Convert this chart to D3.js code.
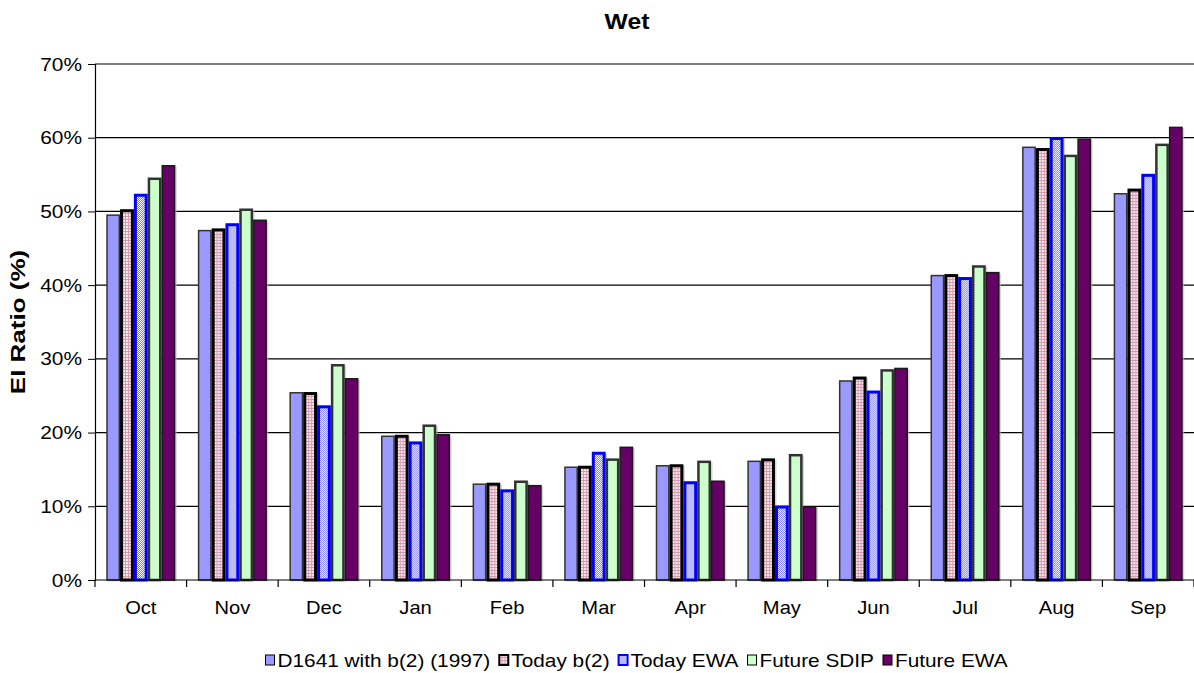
<!DOCTYPE html>
<html>
<head>
<meta charset="utf-8">
<script src="https://cdn.jsdelivr.net/npm/d3@7"></script>
<style>
  html, body { margin: 0; padding: 0; background: #fff; }
  svg { display: block; font-family: "Liberation Sans", Arial, sans-serif; }
</style>
</head>
<body>
<svg id="chart" width="1194" height="673"></svg>
<script>
// ---- data ----
const months = ["Oct","Nov","Dec","Jan","Feb","Mar","Apr","May","Jun","Jul","Aug","Sep"];
const seriesNames = ["D1641 with b(2) (1997)","Today b(2)","Today EWA","Future SDIP","Future EWA"];
const d1641      = [49.6, 47.5, 25.5, 19.6, 13.1, 15.4, 15.6, 16.2, 27.1, 41.4, 58.8, 52.5];
const todayB2    = [50.3, 47.7, 25.5, 19.7, 13.2, 15.5, 15.7, 16.5, 27.6, 41.5, 58.6, 53.1];
const todayEWA   = [52.4, 48.4, 23.7, 18.8, 12.3, 17.4, 13.4, 10.1, 25.7, 41.1, 60.1, 55.1];
const futureSDIP = [54.6, 50.4, 29.3, 21.1, 13.5, 16.5, 16.2, 17.1, 28.6, 42.7, 57.7, 59.2];
const futureEWA  = [56.3, 48.9, 27.4, 19.8, 12.9, 18.1, 13.5, 10.0, 28.8, 41.8, 59.9, 61.5];
const yTicks = [0, 0.1, 0.2, 0.3, 0.4, 0.5, 0.6, 0.7];
const seriesValues = [d1641, todayB2, todayEWA, futureSDIP, futureEWA];

(function () {
const styles = [
  {fill: "#9999ff", stroke: "#333333", sw: 1.5},
  {fill: "url(#patB2)", stroke: "#000000", sw: 3},
  {fill: "url(#patEWA)", stroke: "#0000ff", sw: 3},
  {fill: "#ccffcc", stroke: "#333333", sw: 2.5},
  {fill: "#660066", stroke: "#1a1a1a", sw: 1.5}
];

const svg = d3.select("#chart");
const defs = svg.append("defs");
const p1 = defs.append("pattern").attr("id","patB2").attr("patternUnits","userSpaceOnUse")
  .attr("width",3).attr("height",3);
p1.append("rect").attr("width",3).attr("height",3).attr("fill","#f8e4eb");
p1.append("rect").attr("width",3).attr("height",1).attr("fill","#d49cb0");
p1.append("rect").attr("width",1).attr("height",3).attr("fill","#d49cb0");
const p2 = defs.append("pattern").attr("id","patEWA").attr("patternUnits","userSpaceOnUse")
  .attr("width",2).attr("height",2);
p2.append("rect").attr("width",2).attr("height",2).attr("fill","#ffffff");
p2.append("rect").attr("width",1).attr("height",1).attr("fill","#7777ee");
p2.append("rect").attr("x",1).attr("y",1).attr("width",1).attr("height",1).attr("fill","#7777ee");

const pLeft = 95, pRight = 1194, pTop = 64, pBottom = 580;
const x = d3.scaleBand().domain(months).range([pLeft, pRight]).padding(0);
const inner = d3.scaleBand().domain(d3.range(seriesNames.length))
  .range([x.bandwidth()*0.123, x.bandwidth()*0.877]).padding(0);
const y = d3.scaleLinear().domain([0, 0.7]).range([pBottom, pTop]);

function stretch(sel, f) {
  let last = 0;
  sel.each(function () {
    const L = this.getComputedTextLength() * f;
    d3.select(this).attr("textLength", L).attr("lengthAdjust", "spacingAndGlyphs");
    last = L;
  });
  return last;
}

svg.append("g").selectAll("line").data(yTicks.filter(d => d > 0)).join("line")
  .attr("x1", pLeft).attr("x2", pRight)
  .attr("y1", d => y(d)).attr("y2", d => y(d))
  .attr("stroke", "#000").attr("stroke-width", 1.2);

const groups = svg.append("g").selectAll("g").data(months).join("g")
  .attr("transform", d => `translate(${x(d)},0)`);
groups.each(function(m, mi) {
  const g = d3.select(this);
  seriesValues.forEach((vals, si) => {
    const v = vals[mi] / 100;
    const st = styles[si];
    const bx = inner(si), bw = inner.bandwidth();
    g.append("rect").attr("x", bx + 1.5).attr("y", y(v) + 1.5)
      .attr("width", bw).attr("height", pBottom - y(v))
      .attr("fill", "#bbbbbb").attr("opacity", 0.6);
    g.append("rect").attr("x", bx + st.sw/2).attr("y", y(v) + st.sw/2)
      .attr("width", bw - st.sw).attr("height", Math.max(0, pBottom - y(v) - st.sw/2))
      .attr("fill", st.fill).attr("stroke", st.stroke).attr("stroke-width", st.sw);
  });
});

const yAxis = svg.append("g").attr("transform", `translate(${pLeft},0)`)
  .call(d3.axisLeft(y).tickValues(yTicks).tickFormat(d3.format(".0%")).tickSize(7).tickPadding(6));
yAxis.select(".domain").attr("stroke", "#000").attr("stroke-width", 1.2);
yAxis.selectAll(".tick line").attr("stroke", "#000");
yAxis.selectAll("text").attr("font-size", 19).attr("fill", "#000")
  .attr("font-family", "Liberation Sans, Arial, sans-serif");
stretch(yAxis.selectAll("text"), 1.1);

svg.append("line").attr("x1", pLeft).attr("x2", pRight).attr("y1", pBottom).attr("y2", pBottom)
  .attr("stroke", "#000").attr("stroke-width", 1.2);
const bounds = months.map(m => x(m)).concat([x.range()[1]]);
svg.append("g").selectAll("line").data(bounds).join("line")
  .attr("x1", d => d).attr("x2", d => d).attr("y1", pBottom).attr("y2", pBottom + 7)
  .attr("stroke", "#000").attr("stroke-width", 1.2);
const xAxis = svg.append("g").attr("transform", `translate(0,${pBottom})`)
  .call(d3.axisBottom(x).tickSize(0).tickPadding(21));
xAxis.select(".domain").remove();
xAxis.selectAll("text").attr("font-size", 19).attr("fill", "#000")
  .attr("font-family", "Liberation Sans, Arial, sans-serif");
stretch(xAxis.selectAll("text"), 1.06);

const title = svg.append("text").attr("x", 627).attr("y", 29).attr("text-anchor", "middle")
  .attr("font-size", 22).attr("font-weight", "bold").text("Wet");
stretch(title, 1.12);
const ytitle = svg.append("text").attr("transform", "translate(25,322) rotate(-90)")
  .attr("text-anchor", "middle").attr("font-size", 20).attr("font-weight", "bold")
  .text("EI Ratio (%)");
stretch(ytitle, 1.3);

const legend = svg.append("g");
let lx = 0;
const ly = 667;
seriesNames.forEach((name, i) => {
  const st = styles[i];
  legend.append("rect").attr("x", lx + 1).attr("y", ly - 12).attr("width", 9).attr("height", 10)
    .attr("fill", st.fill).attr("stroke", i === 2 ? "#0000ff" : "#000").attr("stroke-width", i === 1 || i === 2 ? 2 : 1);
  const t = legend.append("text").attr("x", lx + 13).attr("y", ly).attr("font-size", 19).text(name);
  const L = stretch(t, 1.095);
  lx += 13 + L + 8;
});
const lw = lx - 8;
legend.attr("transform", `translate(${636 - lw / 2},0)`);
})();
</script>
</body>
</html>
